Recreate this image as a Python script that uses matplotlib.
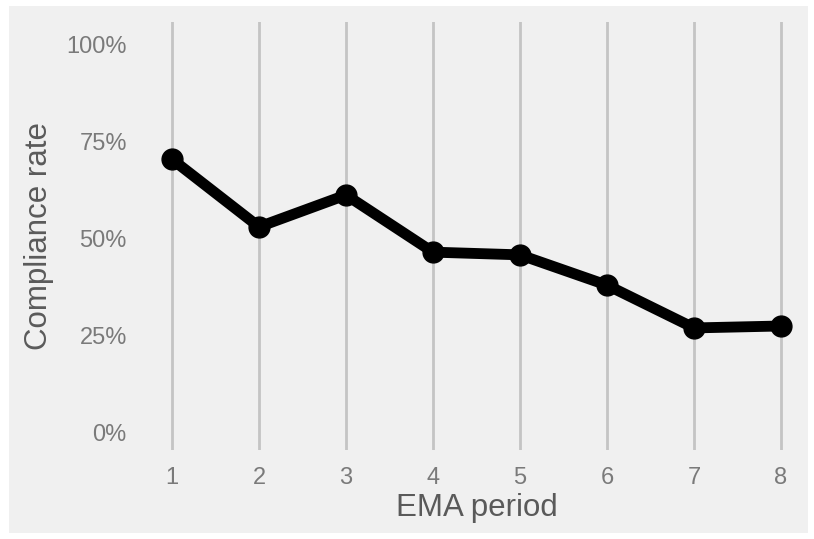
import matplotlib
matplotlib.use("Agg")
import matplotlib.pyplot as plt
from matplotlib.patches import Rectangle
from matplotlib.ticker import FuncFormatter

periods = [1, 2, 3, 4, 5, 6, 7, 8]
compliance = [0.704, 0.530, 0.612, 0.465, 0.458, 0.380, 0.270, 0.275]
y_ticks = [0, 0.25, 0.5, 0.75, 1.0]

plt.rcParams['font.family'] = ['Liberation Sans', 'DejaVu Sans']

W, H = 814, 539
fig = plt.figure(figsize=(W / 100, H / 100), dpi=100, facecolor='white')
bg = '#f0f0f0'
fig.patches.append(Rectangle((9 / W, 6 / H), (808 - 9) / W, (533 - 6) / H,
                             transform=fig.transFigure, facecolor=bg,
                             edgecolor='none', zorder=-10))

left, right = 154.6, 798.4
top, bottom = 22, 450
ax = fig.add_axes([left / W, 1 - bottom / H, (right - left) / W, (bottom - top) / H])
ax.set_facecolor(bg)
ax.patch.set_alpha(0)

ax.plot(periods, compliance, color='black', lw=7.8, marker='o', ms=15,
        solid_joinstyle='round', zorder=3)

ax.set_xlim(0.8, 8.2)
ax.set_ylim(-0.044, 1.057)
ax.set_xticks(periods)
ax.set_yticks(y_ticks)
ax.yaxis.set_major_formatter(FuncFormatter(lambda v, p: f"{int(round(v * 100))}%"))
ax.grid(axis='x', color='#c4c4c4', lw=2)
ax.grid(axis='y', visible=False)
for s in ax.spines.values():
    s.set_visible(False)
ax.tick_params(length=0, labelsize=17, colors='#7a7a7a')
ax.tick_params(axis='y', pad=20)
ax.tick_params(axis='x', pad=12)
ax.set_xlabel('EMA period', fontsize=22.5, color='#5a5a5a', labelpad=3)
ax.set_ylabel('Compliance rate', fontsize=22.5, color='#5a5a5a', labelpad=9)

fig.savefig('out.png', dpi=100, facecolor='white')
